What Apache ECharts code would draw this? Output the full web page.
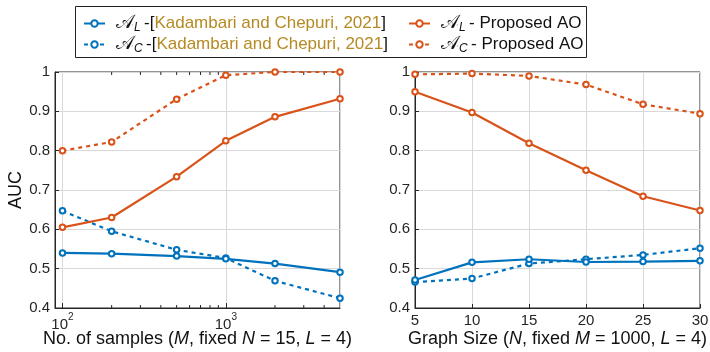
<!DOCTYPE html>
<html><head><meta charset="utf-8">
<script src="https://cdn.jsdelivr.net/npm/echarts@6/dist/echarts.min.js"></script>
<style>html,body{margin:0;padding:0;background:#fff}#c{width:710px;height:352px}</style>
</head><body><div id="c"></div>
<script>
// ---- data ----
var samplesM = [100, 200, 500, 1000, 2000, 5000];
var graphN = [5, 10, 15, 20, 25, 30];
var left_AL_K = [0.540, 0.538, 0.532, 0.525, 0.513, 0.491];
var left_AC_K = [0.647, 0.595, 0.548, 0.527, 0.469, 0.425];
var left_AL_P = [0.605, 0.630, 0.734, 0.825, 0.886, 0.932];
var left_AC_P = [0.800, 0.822, 0.931, 0.992, 1.000, 1.000];
var right_AL_K = [0.471, 0.516, 0.524, 0.517, 0.518, 0.520];
var right_AC_K = [0.466, 0.475, 0.513, 0.524, 0.535, 0.552];
var right_AL_P = [0.950, 0.897, 0.819, 0.750, 0.684, 0.648];
var right_AC_P = [0.994, 0.996, 0.990, 0.968, 0.918, 0.894];
var minorTicksM = [200, 300, 400, 500, 600, 700, 800, 900, 2000, 3000, 4000];

var BLUE = '#0072BD', ORANGE = '#D95319', GOLD = '#b58a22', AX = '#262626';
var FONT = '"Liberation Sans", Arial, sans-serif';

function zip(xs, ys) { return xs.map(function (x, i) { return [x, ys[i]]; }); }

function lineSeries(name, xi, data, color, dashed) {
  return {
    name: name, type: 'line', xAxisIndex: xi, yAxisIndex: xi,
    data: data, symbol: 'emptyCircle', symbolSize: 5.5,
    lineStyle: { color: color, width: 2.2, type: dashed ? [4, 4] : 'solid' },
    itemStyle: { color: color, borderColor: color, borderWidth: 3.4 },
    z: 5, animation: false
  };
}

var legendRich = {
  a: { fontFamily: 'DejaVu Serif', fontSize: 19, color: '#111', padding: [0, 0, 0, 6] },
  s: { fontFamily: FONT, fontStyle: 'italic', fontSize: 12, color: '#111', verticalAlign: 'bottom', padding: [9, 0, 0, 0] },
  t: { fontFamily: FONT, fontSize: 17, color: '#111' },
  g: { fontFamily: FONT, fontSize: 17, color: GOLD }
};
var legendText = {
  'AL_K': '{a|𝒜}{s|L} {t|-[}{g|Kadambari and Chepuri, 2021}{t|]}',
  'AC_K': '{a|𝒜}{s|C} {t|-[}{g|Kadambari and Chepuri, 2021}{t|]}',
  'AL_P': '{a|𝒜}{s|L} {t|- Proposed AO}',
  'AC_P': '{a|𝒜}{s|C} {t|- Proposed AO}'
};
function legendFmt(n) { return legendText[n]; }

var axisLabelStyle = { color: AX, fontFamily: FONT, fontSize: 15 };
var nameRich = {
  t: { fontFamily: FONT, fontSize: 18, color: '#111' },
  i: { fontFamily: FONT, fontSize: 18, color: '#111', fontStyle: 'italic' }
};

function yAxis(idx, showName) {
  return {
    type: 'value', gridIndex: idx, min: 0.4, max: 1, interval: 0.1,
    name: showName ? 'AUC' : '', nameLocation: 'middle', nameGap: 27,
    nameTextStyle: { fontFamily: FONT, fontSize: 18, color: '#111' },
    axisLine: { show: true, lineStyle: { color: AX, width: 1 } },
    axisTick: { show: true, inside: true, length: 4, lineStyle: { color: AX } },
    axisLabel: Object.assign({ margin: 5 }, axisLabelStyle),
    splitLine: { show: true, lineStyle: { color: '#d9d9d9', width: 1 } }
  };
}

var option = {
  animation: false,
  backgroundColor: '#fff',
  grid: [
    { left: 55, top: 72, width: 285, height: 236, show: true, borderColor: AX, borderWidth: 1, backgroundColor: 'transparent', containLabel: false, outerBoundsMode: 'none' },
    { left: 415, top: 72, width: 285, height: 236, show: true, borderColor: AX, borderWidth: 1, backgroundColor: 'transparent', containLabel: false, outerBoundsMode: 'none' }
  ],
  legend: [
    { data: ['AL_K', 'AC_K'], left: 78, top: 9, orient: 'vertical', itemGap: 1, itemWidth: 21, itemHeight: 8,
      formatter: legendFmt, textStyle: { rich: legendRich }, selectedMode: false },
    { data: ['AL_P', 'AC_P'], left: 403, top: 9, orient: 'vertical', itemGap: 1, itemWidth: 21, itemHeight: 8,
      formatter: legendFmt, textStyle: { rich: legendRich }, selectedMode: false }
  ],
  graphic: [
    { type: 'rect', shape: { x: 75.5, y: 6.5, width: 511, height: 51 }, style: { fill: 'none', stroke: '#222', lineWidth: 1 }, z: 100 }
  ],
  xAxis: [
    { type: 'log', gridIndex: 0, min: 90, max: 5000, logBase: 10,
      name: '{t|No. of samples (}{i|M}{t|, fixed }{i|N}{t| = 15, }{i|L}{t| = 4)}',
      nameLocation: 'middle', nameGap: 22, nameMoveOverlap: false, nameTextStyle: { rich: nameRich },
      axisLine: { show: true, onZero: false, lineStyle: { color: AX } },
      axisTick: { show: true, inside: true, length: 5, lineStyle: { color: AX } },
      axisLabel: {
        margin: 4, color: AX, showMinLabel: false, showMaxLabel: false,
        formatter: function (v) {
          var e = Math.log10(v);
          if (Math.abs(e - Math.round(e)) > 1e-6) return '';
          return '{b|10}{s|' + Math.round(e) + '}';
        },
        rich: { b: { fontFamily: FONT, fontSize: 15, color: AX, padding: [5, 0, 0, 0] }, s: { fontFamily: FONT, fontSize: 10, color: AX, verticalAlign: 'top', padding: [0, 0, 4, 0] } }
      },
      splitLine: { show: true, lineStyle: { color: '#d9d9d9' } }
    },
    { type: 'value', gridIndex: 1, min: 5, max: 30, interval: 5,
      name: '{t|Graph Size (}{i|N}{t|, fixed }{i|M}{t| = 1000, }{i|L}{t| = 4)}',
      nameLocation: 'middle', nameGap: 22, nameMoveOverlap: false, nameTextStyle: { rich: nameRich },
      axisLine: { show: true, onZero: false, lineStyle: { color: AX } },
      axisTick: { show: true, inside: true, length: 4, lineStyle: { color: AX } },
      axisLabel: Object.assign({ margin: 5 }, axisLabelStyle),
      splitLine: { show: true, lineStyle: { color: '#d9d9d9' } }
    }
  ],
  yAxis: [yAxis(0, true), yAxis(1, false)],
  series: [
    lineSeries('AC_K', 0, zip(samplesM, left_AC_K), BLUE, true),
    lineSeries('AL_K', 0, zip(samplesM, left_AL_K), BLUE, false),
    lineSeries('AC_P', 0, zip(samplesM, left_AC_P), ORANGE, true),
    lineSeries('AL_P', 0, zip(samplesM, left_AL_P), ORANGE, false),
    lineSeries('AC_K', 1, zip(graphN, right_AC_K), BLUE, true),
    lineSeries('AL_K', 1, zip(graphN, right_AL_K), BLUE, false),
    lineSeries('AC_P', 1, zip(graphN, right_AC_P), ORANGE, true),
    lineSeries('AL_P', 1, zip(graphN, right_AL_P), ORANGE, false),
    {
      type: 'custom', xAxisIndex: 0, yAxisIndex: 0, silent: true, z: 3,
      data: minorTicksM.map(function (m) { return [m]; }),
      renderItem: function (params, api) {
        var pb = api.coord([api.value(0), 0.4]);
        var pt = api.coord([api.value(0), 1]);
        return { type: 'group', children: [
          { type: 'line', shape: { x1: pb[0], y1: pb[1], x2: pb[0], y2: pb[1] - 3 }, style: { stroke: AX, lineWidth: 1 } },
          { type: 'line', shape: { x1: pt[0], y1: pt[1], x2: pt[0], y2: pt[1] + 3 }, style: { stroke: AX, lineWidth: 1 } }
        ]};
      }
    }
  ]
};
var chart = echarts.init(document.getElementById('c'), null, { renderer: 'canvas' });
chart.setOption(option);
</script></body></html>
